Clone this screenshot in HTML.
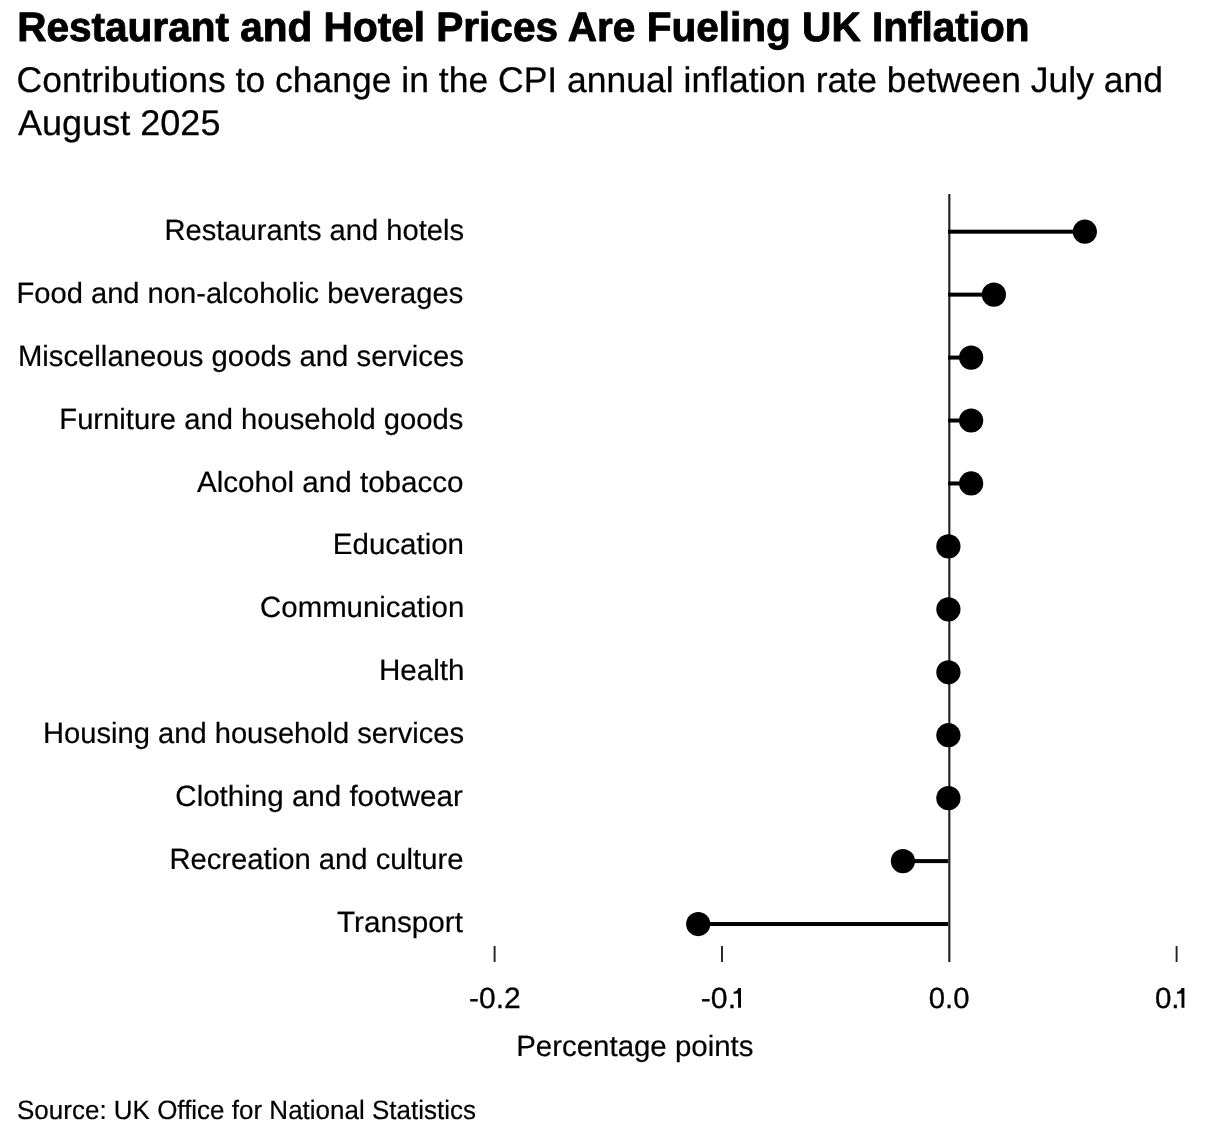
<!DOCTYPE html>
<html><head><meta charset="utf-8"><style>
html,body{margin:0;padding:0;background:#fff;width:1232px;height:1132px;overflow:hidden}
svg{display:block;will-change:transform}
text{font-family:"Liberation Sans",sans-serif;fill:#000;text-rendering:geometricPrecision}
</style></head><body>
<svg width="1232" height="1132" viewBox="0 0 1232 1132">
<rect width="1232" height="1132" fill="#fff"/>
<path d="M738.10 988.0 L741.00 988.0 L741.00 1007.8 L738.10 1007.8 L738.10 993.50 L733.60 993.70 L733.60 991.80 C735.80 991.60 737.60 990.60 738.10 988.0 Z" fill="#000"/>
<path d="M1181.50 988.0 L1184.40 988.0 L1184.40 1007.8 L1181.50 1007.8 L1181.50 993.50 L1177.00 993.70 L1177.00 991.80 C1179.20 991.60 1181.00 990.60 1181.50 988.0 Z" fill="#000"/>
<rect x="948.25" y="194" width="2.15" height="768" fill="#222"/>
<rect x="493.65" y="946" width="1.9" height="16" fill="#222"/>
<rect x="721.05" y="946" width="1.9" height="16" fill="#222"/>
<rect x="1175.65" y="946" width="1.9" height="16" fill="#222"/>
<rect x="948.00" y="229.70" width="136.86" height="4" fill="#000"/>
<rect x="948.00" y="292.64" width="45.89" height="4" fill="#000"/>
<rect x="948.00" y="355.58" width="23.14" height="4" fill="#000"/>
<rect x="948.00" y="418.52" width="23.14" height="4" fill="#000"/>
<rect x="948.00" y="481.46" width="23.14" height="4" fill="#000"/>
<rect x="902.91" y="859.10" width="45.34" height="4" fill="#000"/>
<rect x="698.22" y="922.04" width="250.03" height="4" fill="#000"/>
<circle cx="1084.86" cy="231.70" r="12.1" fill="#000"/>
<circle cx="993.89" cy="294.64" r="12.1" fill="#000"/>
<circle cx="971.14" cy="357.58" r="12.1" fill="#000"/>
<circle cx="971.14" cy="420.52" r="12.1" fill="#000"/>
<circle cx="971.14" cy="483.46" r="12.1" fill="#000"/>
<circle cx="948.40" cy="546.40" r="12.1" fill="#000"/>
<circle cx="948.40" cy="609.34" r="12.1" fill="#000"/>
<circle cx="948.40" cy="672.28" r="12.1" fill="#000"/>
<circle cx="948.40" cy="735.22" r="12.1" fill="#000"/>
<circle cx="948.40" cy="798.16" r="12.1" fill="#000"/>
<circle cx="902.91" cy="861.10" r="12.1" fill="#000"/>
<circle cx="698.22" cy="924.04" r="12.1" fill="#000"/>
<text transform="translate(17.13 40.70) scale(0.9846 1)" style="font-weight:bold;font-size:41.2px;stroke:#000;stroke-width:0.9px;stroke-linejoin:round">Restaurant and Hotel Prices Are Fueling UK Inflation</text>
<text transform="translate(16.51 92.10) scale(0.9947 1)" style="font-size:35.7px;stroke:#000;stroke-width:0.25px">Contributions to change in the CPI annual inflation rate between July and</text>
<text transform="translate(18.00 134.90) scale(1.0101 1)" style="font-size:35.7px;stroke:#000;stroke-width:0.25px">August 2025</text>
<text transform="translate(164.51 240.00) scale(0.9940 1)" style="font-size:29.3px;stroke:#000;stroke-width:0.2px">Restaurants and hotels</text>
<text transform="translate(16.51 302.89) scale(0.9937 1)" style="font-size:29.3px;stroke:#000;stroke-width:0.2px">Food and non-alcoholic beverages</text>
<text transform="translate(17.90 365.78) scale(0.9995 1)" style="font-size:29.3px;stroke:#000;stroke-width:0.2px">Miscellaneous goods and services</text>
<text transform="translate(59.31 428.67) scale(0.9960 1)" style="font-size:29.3px;stroke:#000;stroke-width:0.2px">Furniture and household goods</text>
<text transform="translate(197.00 491.56) scale(1.0103 1)" style="font-size:29.3px;stroke:#000;stroke-width:0.2px">Alcohol and tobacco</text>
<text transform="translate(332.79 554.45) scale(1.0071 1)" style="font-size:29.3px;stroke:#000;stroke-width:0.2px">Education</text>
<text transform="translate(260.10 617.34) scale(1.0030 1)" style="font-size:29.3px;stroke:#000;stroke-width:0.2px">Communication</text>
<text transform="translate(378.88 680.23) scale(1.0099 1)" style="font-size:29.3px;stroke:#000;stroke-width:0.2px">Health</text>
<text transform="translate(43.01 743.12) scale(0.9945 1)" style="font-size:29.3px;stroke:#000;stroke-width:0.2px">Housing and household services</text>
<text transform="translate(175.29 806.01) scale(1.0085 1)" style="font-size:29.3px;stroke:#000;stroke-width:0.2px">Clothing and footwear</text>
<text transform="translate(169.40 868.90) scale(0.9976 1)" style="font-size:29.3px;stroke:#000;stroke-width:0.2px">Recreation and culture</text>
<text transform="translate(336.99 931.79) scale(1.0138 1)" style="font-size:29.3px;stroke:#000;stroke-width:0.2px">Transport</text>
<text transform="translate(516.19 1055.70) scale(1.0047 1)" style="font-size:29.3px;stroke:#000;stroke-width:0.2px">Percentage points</text>
<text transform="translate(17.02 1119.10) scale(0.9809 1)" style="font-size:26.5px;stroke:#000;stroke-width:0.2px">Source: UK Office for National Statistics</text>
<text transform="translate(468.98 1007.90) scale(1.0229 1)" style="font-size:29.3px;stroke:#000;stroke-width:0.3px">-0.2</text>
<text transform="translate(700.77 1007.90) scale(1.0323 1)" style="font-size:29.3px;stroke:#000;stroke-width:0.3px">-0.</text>
<text transform="translate(928.80 1007.90) scale(1.0000 1)" style="font-size:29.3px;stroke:#000;stroke-width:0.3px">0.0</text>
<text transform="translate(1154.89 1007.90) scale(1.0095 1)" style="font-size:29.3px;stroke:#000;stroke-width:0.3px">0.</text>
</svg>
</body></html>
